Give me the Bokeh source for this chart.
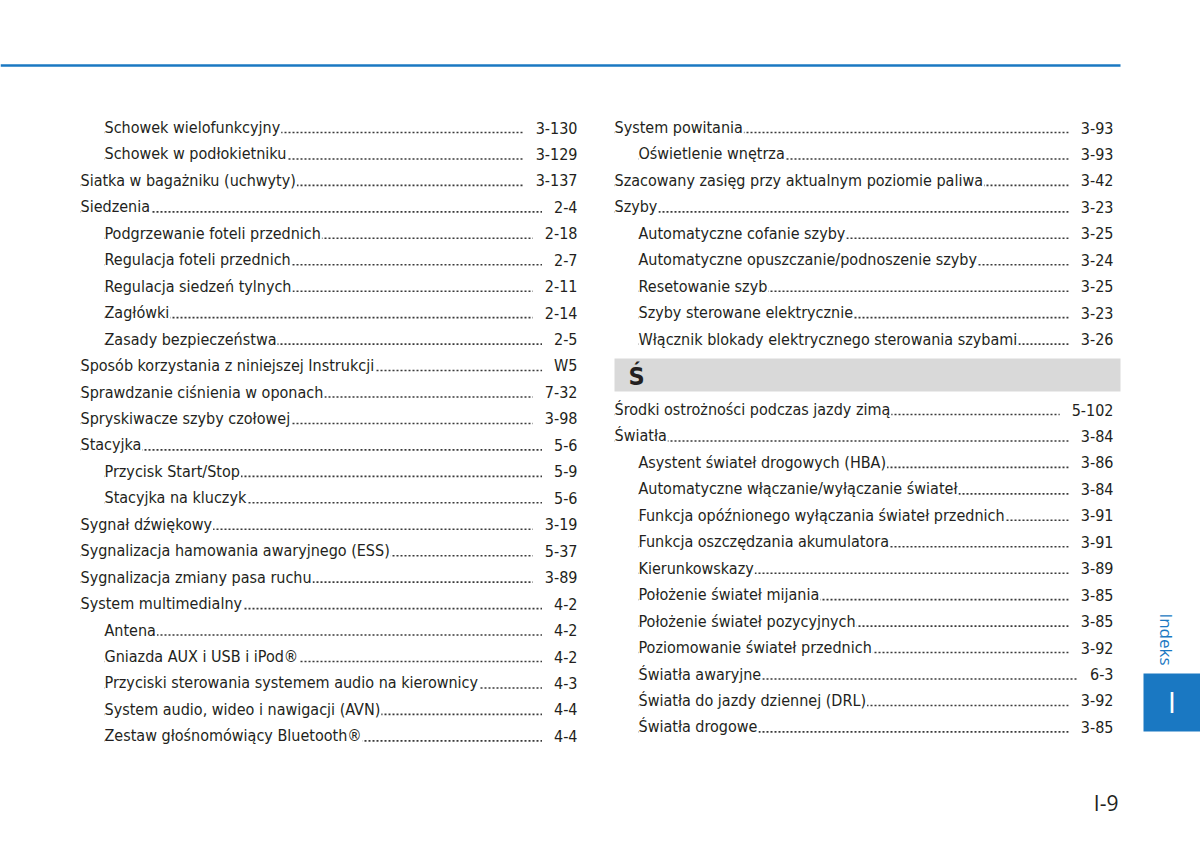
import math
from bokeh.plotting import figure
from bokeh.models import Range1d, ColumnDataSource
from bokeh.core.properties import value
from bokeh.embed import file_html
from bokeh.resources import INLINE

# ---------------- data ----------------
left_labels = [
    "Schowek wielofunkcyjny", "Schowek w podłokietniku", "Siatka w bagażniku (uchwyty)",
    "Siedzenia", "Podgrzewanie foteli przednich", "Regulacja foteli przednich",
    "Regulacja siedzeń tylnych", "Zagłówki", "Zasady bezpieczeństwa",
    "Sposób korzystania z niniejszej Instrukcji", "Sprawdzanie ciśnienia w oponach",
    "Spryskiwacze szyby czołowej", "Stacyjka", "Przycisk Start/Stop", "Stacyjka na kluczyk",
    "Sygnał dźwiękowy", "Sygnalizacja hamowania awaryjnego (ESS)",
    "Sygnalizacja zmiany pasa ruchu", "System multimedialny", "Antena",
    "Gniazda AUX i USB i iPod®", "Przyciski sterowania systemem audio na kierownicy",
    "System audio, wideo i nawigacji (AVN)", "Zestaw głośnomówiący Bluetooth®",
]
left_pages = [
    "3-130", "3-129", "3-137", "2-4", "2-18", "2-7", "2-11", "2-14", "2-5", "W5", "7-32",
    "3-98", "5-6", "5-9", "5-6", "3-19", "5-37", "3-89", "4-2", "4-2", "4-2", "4-3", "4-4", "4-4",
]
left_level = [1, 1, 0, 0, 1, 1, 1, 1, 1, 0, 0, 0, 0, 1, 1, 0, 0, 0, 0, 1, 1, 1, 1, 1]

right_top_labels = [
    "System powitania", "Oświetlenie wnętrza", "Szacowany zasięg przy aktualnym poziomie paliwa",
    "Szyby", "Automatyczne cofanie szyby", "Automatyczne opuszczanie/podnoszenie szyby",
    "Resetowanie szyb", "Szyby sterowane elektrycznie",
    "Włącznik blokady elektrycznego sterowania szybami",
]
right_top_pages = ["3-93", "3-93", "3-42", "3-23", "3-25", "3-24", "3-25", "3-23", "3-26"]
right_top_level = [0, 1, 0, 0, 1, 1, 1, 1, 1]

section_letter = "Ś"

right_bot_labels = [
    "Środki ostrożności podczas jazdy zimą", "Światła", "Asystent świateł drogowych (HBA)",
    "Automatyczne włączanie/wyłączanie świateł", "Funkcja opóźnionego wyłączania świateł przednich",
    "Funkcja oszczędzania akumulatora", "Kierunkowskazy", "Położenie świateł mijania",
    "Położenie świateł pozycyjnych", "Poziomowanie świateł przednich", "Światła awaryjne",
    "Światła do jazdy dziennej (DRL)", "Światła drogowe",
]
right_bot_pages = ["5-102", "3-84", "3-86", "3-84", "3-91", "3-91", "3-89", "3-85", "3-85",
                   "3-92", "6-3", "3-92", "3-85"]
right_bot_level = [0, 0, 1, 1, 1, 1, 1, 1, 1, 1, 1, 1, 1]

tab_title = "Indeks"
tab_letter = "I"
page_number = "I-9"

# ---------------- style ----------------
FONT = value("DejaVu Sans Condensed, Liberation Sans, sans-serif")
FONT2 = value("Open Sans, Noto Sans, sans-serif")
TXT = "#231f20"
BLUE = "#1a78c2"
FS = "16px"
PITCH = 26.45

p = figure(width=1200, height=845, x_range=Range1d(0, 1200), y_range=Range1d(845, 0),
           output_backend="svg", toolbar_location=None, x_axis_type=None, y_axis_type=None,
           min_border=0)
p.grid.visible = False
p.outline_line_color = None
p.background_fill_color = "white"
p.border_fill_color = "white"

# top rule
p.segment(x0=[0], y0=[65], x1=[1120], y1=[65], line_color=BLUE, line_width=2.5)

def column(labels, pages, levels, x_top, x_ind, x_right, base0):
    bases = [base0 + i * PITCH for i in range(len(labels))]
    ys = [b - 6 for b in bases]
    xs = [x_top if lv == 0 else x_ind for lv in levels]
    # dot leaders
    p.segment(x0=xs, y0=[b - 1 for b in bases], x1=[x_right - 4] * len(bases),
              y1=[b - 1 for b in bases],
              line_color="#3a3a3a", line_width=1.6, line_dash="2 2")
    src = ColumnDataSource(dict(x=xs, y=ys, t=labels))
    p.text(x="x", y="y", text="t", source=src, text_font=FONT, text_font_size=FS,
           text_color=TXT, text_baseline="alphabetic", text_align="left",
           background_fill_color="white",
           padding=dict(left=0, right=1, top=4, bottom=4))
    src2 = ColumnDataSource(dict(x=[x_right] * len(ys), y=ys, t=pages))
    p.text(x="x", y="y", text="t", source=src2, text_font=FONT, text_font_size=FS,
           text_color=TXT, text_baseline="alphabetic", text_align="right",
           background_fill_color="white",
           padding=dict(left=12, right=4, top=4, bottom=4))

column(left_labels, left_pages, left_level, 80, 104, 581, 133)
column(right_top_labels, right_top_pages, right_top_level, 614, 638, 1117, 133)
column(right_bot_labels, right_bot_pages, right_bot_level, 614, 638, 1117, 415)

# section header
p.quad(left=[614], right=[1120], top=[358], bottom=[391], fill_color="#d9d9d9", line_color=None)
p.text(x=[628], y=[376], text=[section_letter], text_font=FONT, text_font_size="25px",
       text_font_style="bold", text_color=TXT, text_baseline="alphabetic")

# side tab
p.quad(left=[1143], right=[1200], top=[673], bottom=[731], fill_color=BLUE, line_color=None)
p.text(x=[1171.5], y=[701], text=[tab_letter], text_font=FONT2, text_font_size="30px",
       text_color="white", text_baseline="alphabetic", text_align="center")
p.text(x=[1166], y=[639], text=[tab_title], text_font=FONT2, text_font_size="17px",
       text_color=BLUE, text_baseline="middle", text_align="center", angle=-math.pi / 2)

# page number
p.text(x=[1118], y=[802], text=[page_number], text_font=FONT2, text_font_size="21px",
       text_color=TXT, text_baseline="alphabetic", text_align="right")

open("out.html", "w").write(file_html(p, INLINE))
